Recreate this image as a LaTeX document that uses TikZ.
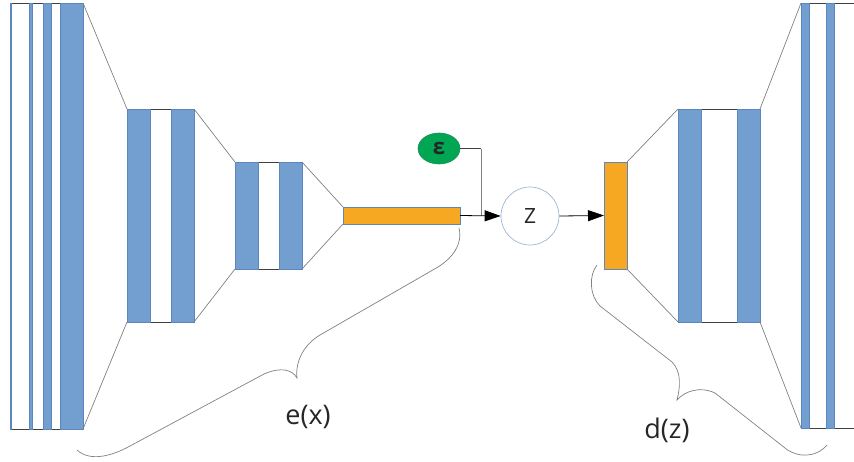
\documentclass[tikz,border=0pt]{standalone}
\usepackage{fontspec}
\setmainfont{Open Sans}
\usetikzlibrary{shapes.geometric,arrows.meta}
\definecolor{cblue}{HTML}{729FCF}
\definecolor{cblueb}{HTML}{5B86BE}
\definecolor{corange}{HTML}{F7A823}
\definecolor{cgreen}{HTML}{00A651}
\definecolor{cgreenb}{HTML}{1F8A5A}
\definecolor{cedge}{HTML}{404040}
\definecolor{cline}{HTML}{808080}
\definecolor{ccirc}{HTML}{9DB4D8}
\definecolor{ctext}{HTML}{262626}
\begin{document}
\begin{tikzpicture}[x=1pt,y=-1pt,
 layer/.style={draw=none,fill=white,inner sep=0pt,outer sep=0pt,anchor=north west},
 stripe/.style={fill=cblue,draw=cblueb,line width=0.6pt},
 rim/.style={draw=cedge,line width=0.8pt},
 funnel/.style={draw=cline,line width=0.7pt},
 obar/.style={fill=corange,draw=cblueb,line width=0.8pt,inner sep=0pt,outer sep=0pt,anchor=north west},
 conn/.style={draw=cedge,line width=0.8pt},
 arr/.style={draw=black,line width=0.8pt,-{Triangle[length=16pt,width=11pt]}},
 brace/.style={draw=cline,line width=0.7pt},
 lbl/.style={font=\fontsize{27}{30}\selectfont,text=ctext,inner sep=0pt,anchor=base}]
\useasboundingbox (0,0) rectangle (854,461);
\clip (0,0) rectangle (854,461);
% layers
\node[layer,minimum width=73pt,minimum height=426pt] (b1) at (10,3) {};
\node[layer,minimum width=67pt,minimum height=213pt] (b2) at (127,109) {};
\node[layer,minimum width=67pt,minimum height=107pt] (b3) at (235,162) {};
\node[obar,minimum width=117pt,minimum height=17pt] (o1) at (343,207) {};
\node[obar,minimum width=23pt,minimum height=107pt] (o2) at (604,162) {};
\node[layer,minimum width=82pt,minimum height=213pt] (b4) at (678,109) {};
\node[layer,minimum width=69pt,minimum height=425pt] (b5) at (801,3) {};
% rims
\foreach \b in {b1,b2,b3,b4,b5}{
  \draw[rim] (\b.north west) -- (\b.north east);
  \draw[rim] (\b.south west) -- (\b.south east);
}
% stripes
\draw[stripe] (10,3) rectangle (11.3,429);
\draw[stripe] (29.3,3) rectangle (32.7,429);
\draw[stripe] (43.3,3) rectangle (51.7,429);
\draw[stripe] (60,3) rectangle (83,429);
\draw[stripe] (127,109) rectangle (150,322);
\draw[stripe] (171,109) rectangle (194,322);
\draw[stripe] (235,162) rectangle (258,269);
\draw[stripe] (279,162) rectangle (302,269);
\draw[stripe] (678,109) rectangle (701,322);
\draw[stripe] (737.7,109) rectangle (760,322);
\draw[stripe] (801,3) rectangle (809,428);
\draw[stripe] (826,3) rectangle (834,428);
% funnel lines
\draw[funnel] (b1.north east) -- (b2.north west);
\draw[funnel] (b1.south east) -- (b2.south west);
\draw[funnel] (b2.north east) -- (b3.north west);
\draw[funnel] (b2.south east) -- (b3.south west);
\draw[funnel] (b3.north east) -- (o1.north west);
\draw[funnel] (b3.south east) -- (o1.south west);
\draw[funnel] (o2.north east) -- (b4.north west);
\draw[funnel] (o2.south east) -- (b4.south west);
\draw[funnel] (b4.north east) -- (b5.north west);
\draw[funnel] (b4.south east) -- (b5.south west);
% epsilon and z
\node[ellipse,fill=cgreen,draw=cgreenb,line width=0.6pt,minimum width=42pt,minimum height=31pt,inner sep=0pt,
      font=\fontsize{22}{24}\selectfont\bfseries,text=ctext] (eps) at (439,148.5) {ε};
\node[circle,draw=ccirc,fill=white,line width=0.7pt,minimum size=58pt,inner sep=0pt,
      font=\fontsize{21}{24}\selectfont,text=ctext] (z) at (530,216) {Z};
\coordinate (j) at (481,216);
\draw[conn] (eps.east) -- (eps.east -| j);
\draw[draw=cline,line width=0.8pt] (eps.east -| j) -- (j);
\draw[arr] (o1.east) -- (z.west);
\draw[arr] (z.east) -- (o2.west);
% braces
\draw[brace] (459,228) .. controls (463,245) and (452,258) .. (438,267) -- (320,335)
  .. controls (305,344) and (295,360) .. (297,378)
  .. controls (292,369) and (280,367) .. (264,374) -- (130,446)
  .. controls (112,456) and (90,462) .. (77,450);
\draw[brace] (597,265) .. controls (589,275) and (589,295) .. (600,306) -- (672,362)
  .. controls (682,372) and (680,388) .. (677,400)
  .. controls (685,391) and (700,386) .. (715,393) -- (785,448)
  .. controls (797,458) and (816,458) .. (827,445);
% labels
\node[lbl] (ex) at (308,424) {e(x)};
\node[lbl] (dz) at (667,438) {d(z)};
\end{tikzpicture}
\end{document}
